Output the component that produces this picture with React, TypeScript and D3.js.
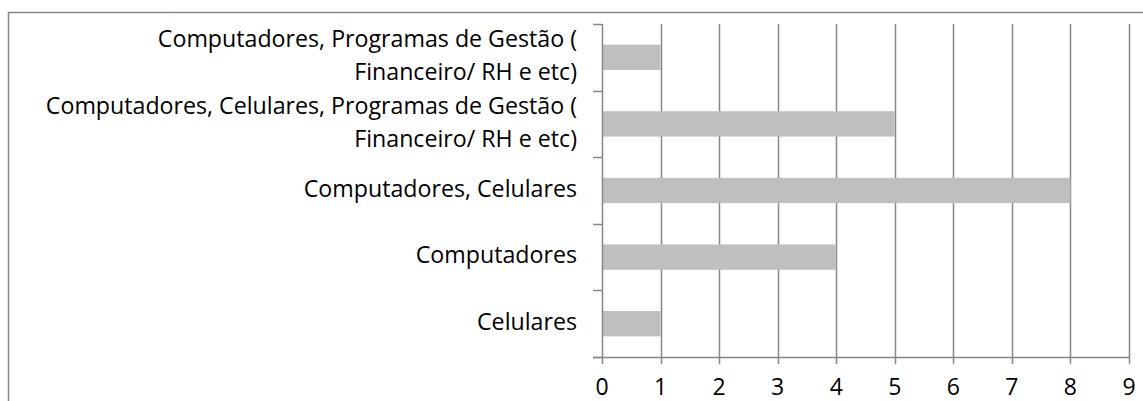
import React, { useEffect, useRef } from "react";
import * as d3 from "d3";

// categories from top to bottom, with the line breaks as drawn
const categories = [
  "Computadores, Programas de Gestão ( Financeiro/ RH e etc)",
  "Computadores, Celulares, Programas de Gestão ( Financeiro/ RH e etc)",
  "Computadores, Celulares",
  "Computadores",
  "Celulares",
];
const labelLines = [
  ["Computadores, Programas de Gestão (", "Financeiro/ RH e etc)"],
  ["Computadores, Celulares, Programas de Gestão (", "Financeiro/ RH e etc)"],
  ["Computadores, Celulares"],
  ["Computadores"],
  ["Celulares"],
];
const values = [1, 5, 8, 4, 1];
const xTicks = [0, 1, 2, 3, 4, 5, 6, 7, 8, 9];

export default function App() {
  const svgRef = useRef<SVGSVGElement>(null);

  useEffect(() => {
    const width = 1143;
    const height = 401;
    const plot = { left: 602, right: 1129, top: 24, bottom: 357 };
    const font = "'Open Sans', sans-serif";
    const fontSize = 23.2;
    const gridColor = "#868686";

    const svg = d3.select(svgRef.current);
    svg.selectAll("*").remove();
    svg.attr("width", width).attr("height", height);

    // 바깥 테두리 (잘려서 오른쪽/아래는 안 보임)
    svg.append("rect")
      .attr("x", 8.5)
      .attr("y", 12.5)
      .attr("width", 1200)
      .attr("height", 500)
      .attr("fill", "white")
      .attr("stroke", "#878787")
      .attr("stroke-width", 1.5);

    const x = d3.scaleLinear().domain([0, 9]).range([plot.left, plot.right]);
    const y = d3.scaleBand<string>()
      .domain(categories)
      .range([plot.top, plot.bottom])
      .paddingInner(0.62)
      .paddingOuter(0.31);

    const g = svg.append("g");

    // 세로 그리드
    g.selectAll(".grid")
      .data(xTicks.slice(1))
      .enter()
      .append("line")
      .attr("x1", d => Math.round(x(d)) + 0.5)
      .attr("x2", d => Math.round(x(d)) + 0.5)
      .attr("y1", plot.top)
      .attr("y2", plot.bottom + 7)
      .attr("stroke", gridColor)
      .attr("stroke-width", 1.5);

    // 막대
    g.selectAll(".bar")
      .data(values)
      .enter()
      .append("rect")
      .attr("x", x(0))
      .attr("y", (d, i) => y(categories[i])!)
      .attr("width", d => x(d) - x(0))
      .attr("height", y.bandwidth())
      .attr("fill", "#bfbfbf");

    // Y축 선 + 눈금
    g.append("line")
      .attr("x1", Math.round(x(0)) + 0.5)
      .attr("x2", Math.round(x(0)) + 0.5)
      .attr("y1", plot.top)
      .attr("y2", plot.bottom + 7)
      .attr("stroke", gridColor)
      .attr("stroke-width", 1.5);

    const step = (plot.bottom - plot.top) / categories.length;
    g.selectAll(".ytick")
      .data(d3.range(categories.length + 1))
      .enter()
      .append("line")
      .attr("x1", plot.left - 9)
      .attr("x2", plot.left)
      .attr("y1", i => Math.round(plot.top + i * step) + 0.5)
      .attr("y2", i => Math.round(plot.top + i * step) + 0.5)
      .attr("stroke", gridColor)
      .attr("stroke-width", 1.5);

    // X축 선
    g.append("line")
      .attr("x1", plot.left - 9)
      .attr("x2", x(9) + 1)
      .attr("y1", plot.bottom + 0.5)
      .attr("y2", plot.bottom + 0.5)
      .attr("stroke", gridColor)
      .attr("stroke-width", 1.5);

    // X축 라벨
    g.selectAll(".xlabel")
      .data(xTicks)
      .enter()
      .append("text")
      .attr("x", d => x(d))
      .attr("y", plot.bottom + 32)
      .attr("text-anchor", "middle")
      .attr("dominant-baseline", "middle")
      .attr("font-family", font)
      .attr("font-size", 23)
      .attr("fill", "#000")
      .text(d => d);

    // 카테고리 라벨
    const lineHeight = 33;
    labelLines.forEach((lines, i) => {
      const cy = y(categories[i])! + y.bandwidth() / 2;
      const t = g.append("text")
        .attr("text-anchor", "end")
        .attr("font-family", font)
        .attr("font-size", fontSize)
        .attr("fill", "#000");
      lines.forEach((line, j) => {
        t.append("tspan")
          .attr("x", 577)
          .attr("y", cy + (j - (lines.length - 1) / 2) * lineHeight)
          .attr("dominant-baseline", "middle")
          .text(line);
      });
    });
  }, []);

  return (
    <div style={{ position: "fixed", left: 0, top: 0 }}>
      <svg ref={svgRef} style={{ display: "block" }}></svg>
    </div>
  );
}
